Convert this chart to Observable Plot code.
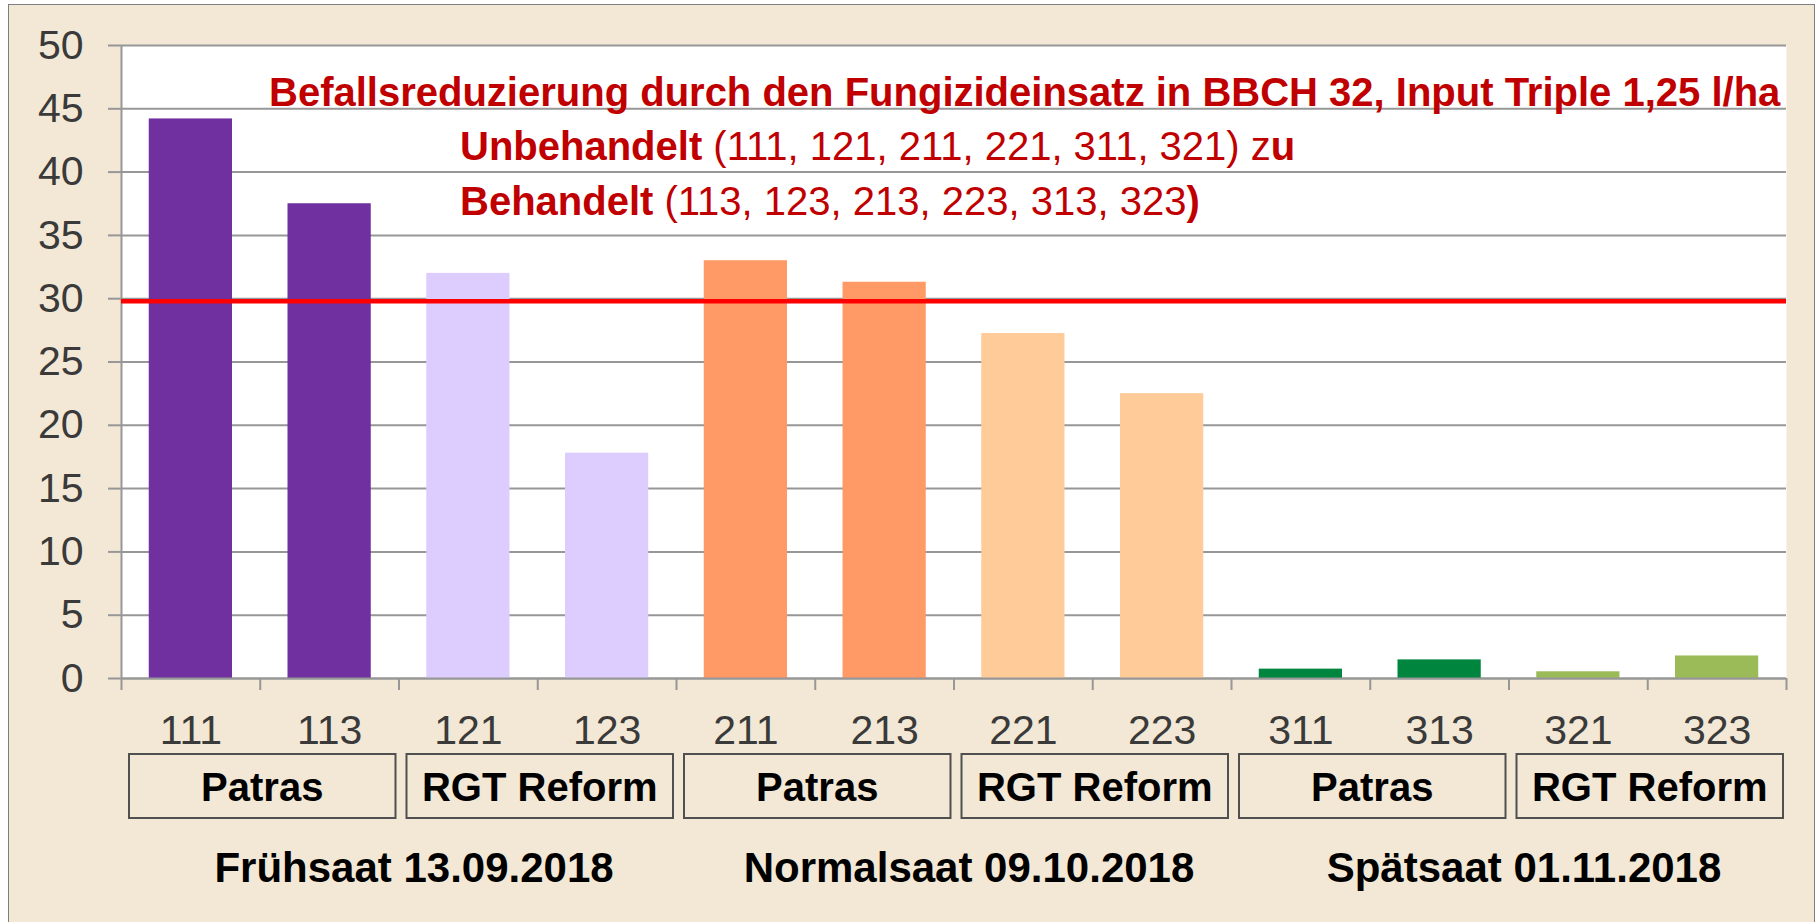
<!DOCTYPE html>
<html><head><meta charset="utf-8">
<script src="https://cdn.jsdelivr.net/npm/d3@7"></script>
<script src="https://cdn.jsdelivr.net/npm/@observablehq/plot@0.6"></script>
<style>
html,body{margin:0;padding:0;background:#fff;width:1819px;height:922px;overflow:hidden;font-family:"Liberation Sans",Arial,sans-serif;}
#frame{position:absolute;left:8px;top:4px;width:1805px;height:940px;background:#F2E8D5;border:1px solid #7f7f7f;}
#main{position:absolute;left:0;top:0;}
#groups{position:absolute;left:0;top:750px;}
.note{position:absolute;color:#C00000;font-size:40px;line-height:40px;white-space:nowrap;font-weight:normal;}
.note b{font-weight:bold;}
</style></head><body>
<div id="frame"></div>
<div id="main"></div>
<div id="groups"></div>
<div id="notes"></div>
<script>
// ---- data ----
const codes = ["111","113","121","123","211","213","221","223","311","313","321","323"];
const values = [44.2, 37.5, 32.0, 17.8, 33.0, 31.3, 27.25, 22.5, 0.74, 1.47, 0.53, 1.78];
const varieties = ["Patras","RGT Reform","Patras","RGT Reform","Patras","RGT Reform"];
const seasons = ["Frühsaat 13.09.2018","Normalsaat 09.10.2018","Spätsaat 01.11.2018"];
const threshold = 29.8;
const yTicks = [0,5,10,15,20,25,30,35,40,45,50];
const noteTitle = [["Befallsreduzierung durch den Fungizideinsatz in BBCH 32, Input Triple 1,25 l/ha", true]];
const noteUntreated = [["Unbehandelt", true], [" (111, 121, 211, 221, 311, 321) z", false], ["u", true]];
const noteTreated = [["Behandelt", true], [" (113, 123, 213, 223, 313, 323", false], [")", true]];

// ---- styles ----
const barColors = ["#7030A0","#DDCDFF","#FF9966","#FFCC99","#00853F","#9BBB59"];
const W = 1819, ML = 121, MR = 33;
const font = "'Liberation Sans', Arial, sans-serif";
const grid = "#979797";

const bars = codes.map((code, i) => ({code, i, value: values[i], group: Math.floor(i / 2)}));
const groupRows = varieties.map((name, g) => ({name, start: g * 2, end: g * 2 + 2}));
const seasonRows = seasons.map((name, s) => ({name, start: s * 4, end: s * 4 + 4}));

const main = Plot.plot({
  width: W, height: 750,
  marginLeft: ML, marginRight: MR, marginTop: 45, marginBottom: 72,
  style: {background: "transparent", fontFamily: font, overflow: "visible"},
  x: {type: "linear", domain: [0, codes.length]},
  y: {domain: [0, 50]},
  color: {type: "ordinal", domain: d3.range(varieties.length), range: barColors},
  marks: [
    Plot.frame({fill: "white", stroke: "none"}),
    Plot.ruleY(yTicks, {stroke: grid, strokeWidth: 2}),
    Plot.axisY({ticks: yTicks, tickSize: 13, tickPadding: 25, stroke: grid, strokeWidth: 2,
      fill: "#3a3a3a", fontSize: 41, label: null, tickFormat: d => String(d)}),
    Plot.rectY(bars, {x1: d => d.i + 0.2, x2: d => d.i + 0.8, y: "value", fill: "group"}),
    Plot.ruleX([0], {stroke: grid, strokeWidth: 2}),
    Plot.ruleY([0], {stroke: grid, strokeWidth: 2}),
    Plot.axisX({ticks: d3.range(0, codes.length + 1), tickSize: 12, tickFormat: () => "",
      stroke: grid, strokeWidth: 2, label: null}),
    Plot.axisX({ticks: codes.map((c, i) => i + 0.5), tickSize: 0, tickPadding: 36,
      tickFormat: v => codes[Math.floor(v)], fill: "#3a3a3a", fontSize: 41, label: null}),
    Plot.ruleY([threshold], {stroke: "#FF0000", strokeWidth: 4.5})
  ]
});
document.getElementById("main").appendChild(main);

const lower = Plot.plot({
  width: W, height: 172,
  marginLeft: ML, marginRight: MR, marginTop: 0, marginBottom: 0,
  style: {background: "transparent", fontFamily: font, overflow: "visible"},
  x: {type: "linear", domain: [0, codes.length], axis: null},
  y: {type: "band", domain: ["variety", "season"], range: [4, 132], padding: 0, axis: null},
  marks: [
    Plot.barX(groupRows, {x1: "start", x2: "end", y: () => "variety", fill: "none",
      stroke: "#505050", strokeWidth: 2, insetLeft: 8, insetRight: 3}),
    Plot.text(groupRows, {x: d => (d.start + d.end) / 2, y: () => "variety", text: "name",
      fontSize: 40, fontWeight: "bold", fill: "#000", dy: 2, dx: 2}),
    Plot.text(seasonRows, {x: d => (d.start + d.end) / 2, y: () => "season", text: "name",
      fontSize: 42, fontWeight: "bold", fill: "#000", dy: 18, dx: 15})
  ]
});
document.getElementById("groups").appendChild(lower);

// annotation text box
const notes = document.getElementById("notes");
[[noteTitle, 269, 72], [noteUntreated, 460, 126], [noteTreated, 460, 181]].forEach(([segs, left, top]) => {
  const div = document.createElement("div");
  div.className = "note";
  div.style.left = left + "px";
  div.style.top = top + "px";
  segs.forEach(([t, bold]) => {
    const el = document.createElement(bold ? "b" : "span");
    el.textContent = t;
    div.appendChild(el);
  });
  notes.appendChild(div);
});
</script>
</body></html>
